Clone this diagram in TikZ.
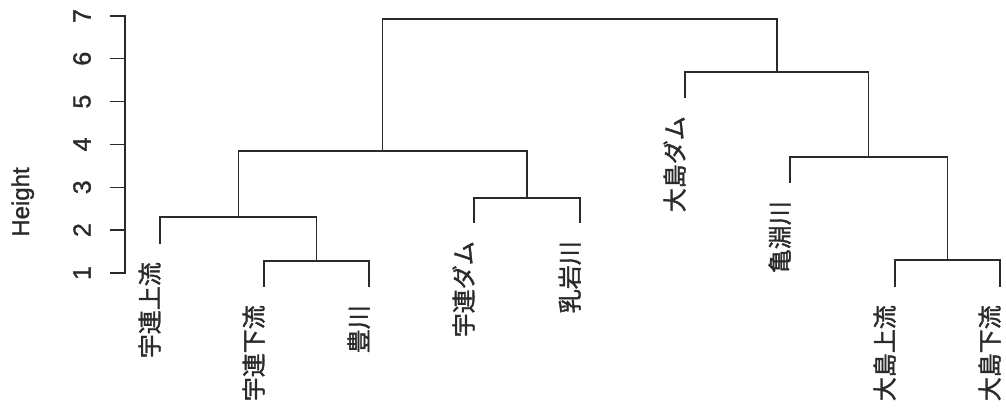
\documentclass[tikz,border=0pt]{standalone}
\usepackage{fontspec}
\setmainfont{Liberation Sans}
\newfontfamily\lab{Liberation Sans}[FakeBold=1.2]
\newfontfamily\jp{Noto Sans CJK JP}[FakeBold=1.5]
\definecolor{ink}{HTML}{2A2A2A}
\begin{document}
\begin{tikzpicture}[x=1pt,y=-1pt,
  tree/.style={line width=1.4pt, draw=ink, line cap=rect},
  axisline/.style={line width=1.4pt, draw=ink},
  leaflabel/.style={rotate=90, anchor=east, inner sep=0pt, font=\jp\fontsize{24}{24}\selectfont,
                    text height=0.88em, text depth=0.12em, text=ink},
  ticklabel/.style={rotate=90, anchor=center, inner sep=0pt, font=\lab\fontsize{25}{25}\selectfont, text=ink}]
\useasboundingbox (0,0) rectangle (1006,408);
\fill[white] (0,0) rectangle (1006,408);

% axis
\draw[axisline] (110,16) -- (125,16) -- (125,273) -- (110,273);
\foreach \h/\yy in {2/230.1,3/187.3,4/144.4,5/101.6,6/58.7}{
  \draw[axisline] (110,\yy) -- (125,\yy);
}
\foreach \h/\yy in {1/273,2/230.1,3/187.3,4/144.4,5/101.6,6/58.7,7/16}{
  \node[ticklabel] (tick\h) at (82,\yy) {\h};
}
\node[rotate=90, anchor=base, inner sep=0pt, font=\lab\fontsize{24}{24}\selectfont, text=ink] (ylab) at (29,202) {Height};

% leaves
\coordinate (l1) at (160,243);
\coordinate (l2) at (264,286);
\coordinate (l3) at (369,286);
\coordinate (l4) at (474,222);
\coordinate (l5) at (580,222);
\coordinate (l6) at (685,97);
\coordinate (l7) at (790,182);
\coordinate (l8) at (895,286);
\coordinate (l9) at (1000,286);
% merges
\coordinate (mB) at (316.5,261);
\coordinate (mA) at (238.25,217);
\coordinate (mC) at (527,198);
\coordinate (mD) at (382.6,151);
\coordinate (mG) at (947.5,260);
\coordinate (mF) at (868.75,157);
\coordinate (mE) at (776.9,72);
\coordinate (mT) at (579.7,19);

\draw[tree] (l2) |- (mB) -| (l3);
\draw[tree] (l1) |- (mA) -| (mB);
\draw[tree] (l4) |- (mC) -| (l5);
\draw[tree] (mA) |- (mD) -| (mC);
\draw[tree] (l8) |- (mG) -| (l9);
\draw[tree] (l7) |- (mF) -| (mG);
\draw[tree] (l6) |- (mE) -| (mF);
\draw[tree] (mD) |- (mT) -| (mE);

% labels
\node[leaflabel] (t1) at (155,262) {宇連上流};
\node[leaflabel] (t2) at (259,305) {宇連下流};
\node[leaflabel] (t3) at (364,305) {豊川};
\node[leaflabel] (t4) at (469,241) {宇連ダム};
\node[leaflabel] (t5) at (575,241) {乳岩川};
\node[leaflabel] (t6) at (680,116) {大島ダム};
\node[leaflabel] (t7) at (785,201) {亀淵川};
\node[leaflabel] (t8) at (890,305) {大島上流};
\node[leaflabel] (t9) at (995,305) {大島下流};
\end{tikzpicture}
\end{document}
